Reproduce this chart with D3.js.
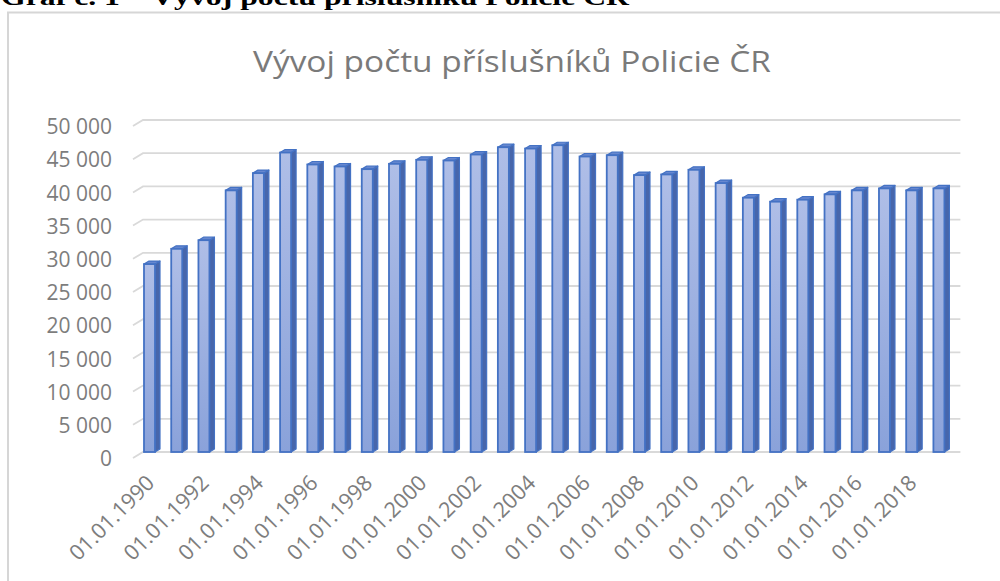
<!DOCTYPE html>
<html>
<head>
<meta charset="utf-8">
<script src="https://cdnjs.cloudflare.com/ajax/libs/d3/7.8.5/d3.min.js"></script>
<style>
body { margin:0; background:#fff; }
svg { display:block; }
</style>
</head>
<body>
<svg></svg>
<script>
//////////data////////////
var years = [1990,1991,1992,1993,1994,1995,1996,1997,1998,1999,
             2000,2001,2002,2003,2004,2005,2006,2007,2008,2009,
             2010,2011,2012,2013,2014,2015,2016,2017,2018,2019];
var officers = [28300,30600,31900,39400,42000,45100,43300,43000,42600,43400,
                44000,43900,44800,45900,45700,46200,44500,44700,41700,41800,
                42500,40500,38300,37700,38000,38800,39400,39700,39400,39700];
var yTicks = [0,5000,10000,15000,20000,25000,30000,35000,40000,45000,50000];
var labelYears = [1990,1992,1994,1996,1998,2000,2002,2004,2006,2008,2010,2012,2014,2016,2018];
var heading = "Graf č. 1 – Vývoj počtu příslušníků Policie ČR";
var chartTitle = "Vývoj počtu příslušníků Policie ČR";

var screen = {
  width:1000,
  height:581
}
var font = "'Open Sans', 'DejaVu Sans', sans-serif";
var textGray = "#7d7d7d";
var depth = {dx:5, dy:3};

var svg = d3.select("svg")
            .attr("width",screen.width)
            .attr("height",screen.height)

var grad = svg.append("defs")
              .append("linearGradient")
              .attr("id","front")
              .attr("x1",0).attr("y1",0)
              .attr("x2",0).attr("y2",1);
grad.append("stop").attr("offset","0%").attr("stop-color","#afbee7");
grad.append("stop").attr("offset","100%").attr("stop-color","#8aa2da");

//////////page heading (cut off at top, as in the document)////////////
svg.append("text")
   .attr("x",1)
   .attr("y",5)
   .attr("font-family","'Liberation Serif', 'Times New Roman', serif")
   .attr("font-weight","bold")
   .attr("font-size",24)
   .attr("textLength",628)
   .attr("lengthAdjust","spacingAndGlyphs")
   .attr("fill","#000")
   .text(heading);

//////////chart frame////////////
svg.append("rect")
   .attr("x",8)
   .attr("y",12.5)
   .attr("width",1000)
   .attr("height",600)
   .attr("fill","none")
   .attr("stroke","#d6d6d6")
   .attr("stroke-width",2);

svg.append("text")
   .attr("x",512)
   .attr("y",72)
   .attr("text-anchor","middle")
   .attr("font-family",font)
   .attr("font-size",30)
   .attr("textLength",518)
   .attr("lengthAdjust","spacingAndGlyphs")
   .attr("fill","#7a7a7a")
   .text(chartTitle);

//////////scales////////////
var x = d3.scaleBand()
          .domain(years)
          .range([133,955.4])
          .paddingInner(0.596)
          .paddingOuter(0.404);
var y = d3.scaleLinear()
          .domain([0,50000])
          .range([452,120]);

var left = x.range()[0];
var back = left + 10;
var right = x.range()[1] + 5;

//////////gridlines with the 3d wall edge////////////
svg.append("g")
   .attr("id","grid")
   .selectAll("path")
   .data(yTicks)
   .enter()
   .append("path")
   .attr("d",function(d){
     return "M" + left + "," + (y(d)+6) + "L" + back + "," + y(d) + "L" + right + "," + y(d);
   })
   .attr("fill","none")
   .attr("stroke","#d9d9d9")
   .attr("stroke-width",1.8);

//////////bars////////////
var w = x.bandwidth();
var bars = svg.append("g")
              .attr("id","bars")
              .selectAll("g")
              .data(years)
              .enter()
              .append("g");

// side face
bars.append("path")
    .attr("d",function(d,i){
      var x0 = x(d) + w, yt = y(officers[i]), yb = y(0);
      return "M" + x0 + "," + yt + "L" + (x0+depth.dx) + "," + (yt-depth.dy) +
             "L" + (x0+depth.dx) + "," + (yb-depth.dy) + "L" + x0 + "," + yb + "Z";
    })
    .attr("fill","#4766ab")
    .attr("stroke","#4472c4")
    .attr("stroke-width",1.2)
    .attr("stroke-linejoin","round");

// top face
bars.append("path")
    .attr("d",function(d,i){
      var x0 = x(d), yt = y(officers[i]);
      return "M" + x0 + "," + yt + "L" + (x0+depth.dx) + "," + (yt-depth.dy) +
             "L" + (x0+w+depth.dx) + "," + (yt-depth.dy) + "L" + (x0+w) + "," + yt + "Z";
    })
    .attr("fill","#6787cf")
    .attr("stroke","#4472c4")
    .attr("stroke-width",1.2)
    .attr("stroke-linejoin","round");

// front face
bars.append("rect")
    .attr("x",function(d){ return x(d); })
    .attr("y",function(d,i){ return y(officers[i]); })
    .attr("width",w)
    .attr("height",function(d,i){ return y(0) - y(officers[i]); })
    .attr("fill","url(#front)")
    .attr("stroke","#4472c4")
    .attr("stroke-width",1.8);

//////////axes////////////
var fmt = d3.formatLocale({decimal:",", thousands:" ", grouping:[3], currency:["",""]}).format(",");

var yAxis = svg.append("g")
               .attr("transform","translate(112,7)")
               .call(d3.axisLeft(y).tickValues(yTicks).tickFormat(fmt).tickSize(0).tickPadding(0));
yAxis.select(".domain").remove();
yAxis.attr("font-family",font).attr("font-size",21);
yAxis.selectAll("text").attr("fill",textGray);

var xAxis = svg.append("g")
               .attr("transform","translate(0," + y(0) + ")")
               .call(d3.axisBottom(x).tickValues(labelYears)
                       .tickFormat(function(d){ return "01.01." + d; })
                       .tickSize(0));
xAxis.select(".domain").remove();
xAxis.attr("font-family",font).attr("font-size",21.5);
xAxis.selectAll("text")
     .attr("x",0)
     .attr("y",0)
     .attr("dy","0.35em")
     .attr("text-anchor","end")
     .attr("transform","translate(1,27) rotate(-45)")
     .attr("fill",textGray);
</script>
</body>
</html>
